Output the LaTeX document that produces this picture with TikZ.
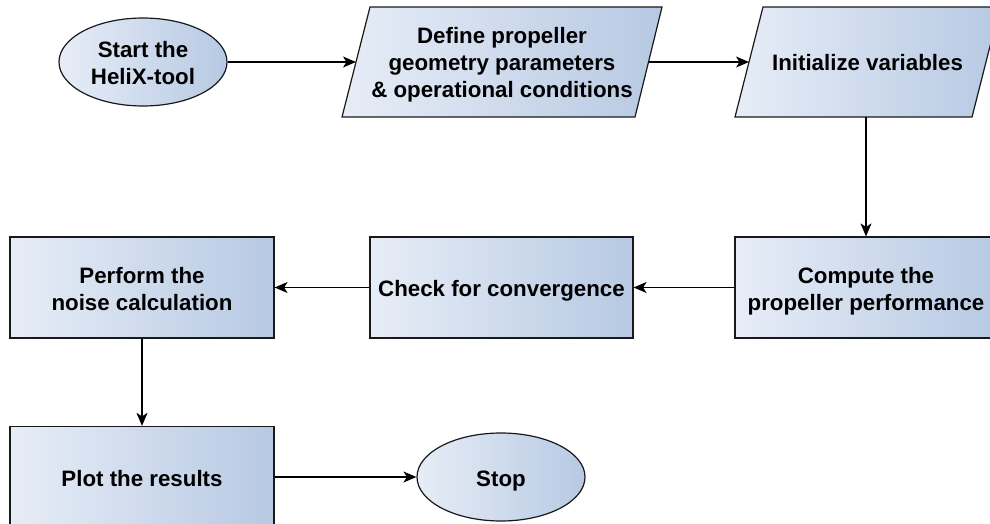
\documentclass[tikz,border=0pt]{standalone}
\usepackage{fontspec}
\setmainfont{Liberation Sans}
\usetikzlibrary{shapes.geometric,arrows.meta}
\definecolor{fillL}{RGB}{231,237,247}
\definecolor{fillR}{RGB}{183,201,227}
\definecolor{edge}{RGB}{25,25,25}
\newcommand{\topstrut}{\rule{0pt}{23pt}}
\newcommand{\botstrut}{\rule[-5pt]{0pt}{5pt}}
\tikzset{
  skin/.style={draw=edge, line width=1.2pt, left color=fillL, right color=fillR},
  txt/.style={align=center, inner sep=0pt, font=\fontsize{22.3}{27}\selectfont\bfseries, text=black},
  base/.style={skin, txt},
  terminal/.style={base, ellipse, minimum width=168pt, minimum height=88pt},
  process/.style={base, rectangle, minimum height=101pt},
  conn/.style={draw=black, line width=1.4pt, -{Stealth[length=13pt,width=11pt,inset=3.5pt]}}
}
\begin{document}
\begin{tikzpicture}[x=1pt,y=-1pt]
\useasboundingbox (0,0) rectangle (990,524);
\clip (0,0) rectangle (990,524);
% terminals and processes
\node[terminal] (start) at (143,62) {\topstrut Start the\\HeliX-tool\botstrut};
\node[process, minimum width=262pt] (compute) at (866,287.5) {\topstrut Compute the\\propeller performance\botstrut};
\node[process, minimum width=263pt] (check) at (501.5,287.5) {\topstrut Check for convergence\botstrut};
\node[process, minimum width=264pt] (perform) at (142,287.5) {\topstrut Perform the\\noise calculation\botstrut};
\node[process, minimum width=264pt] (plot) at (142,477) {\topstrut Plot the results\botstrut};
\node[terminal] (stop) at (501,477) {\topstrut Stop\botstrut};
% input/output parallelograms
\path[skin] (370,7) -- (662,7) -- (635,117) -- (342,117) -- cycle;
\node[txt] (define) at (502,62) {\topstrut Define propeller\\geometry parameters\\\& operational conditions\botstrut};
\coordinate (define-w) at (356,62);
\coordinate (define-e) at (648.5,62);
\path[skin] (763,7) -- (1000,7) -- (972,117) -- (735,117) -- cycle;
\node[txt] (init) at (867.5,62) {\topstrut Initialize variables\botstrut};
\coordinate (init-w) at (749,62);
\coordinate (init-s) at (866,117);
% connectors
\draw[conn] (start) -- (define-w);
\draw[conn] (define-e) -- (init-w);
\draw[conn] (init-s) -- (compute.north);
\draw[conn] (compute) -- (check);
\draw[conn] (check) -- (perform);
\draw[conn] (perform) -- (plot);
\draw[conn] (plot) -- (stop);
\end{tikzpicture}
\end{document}
